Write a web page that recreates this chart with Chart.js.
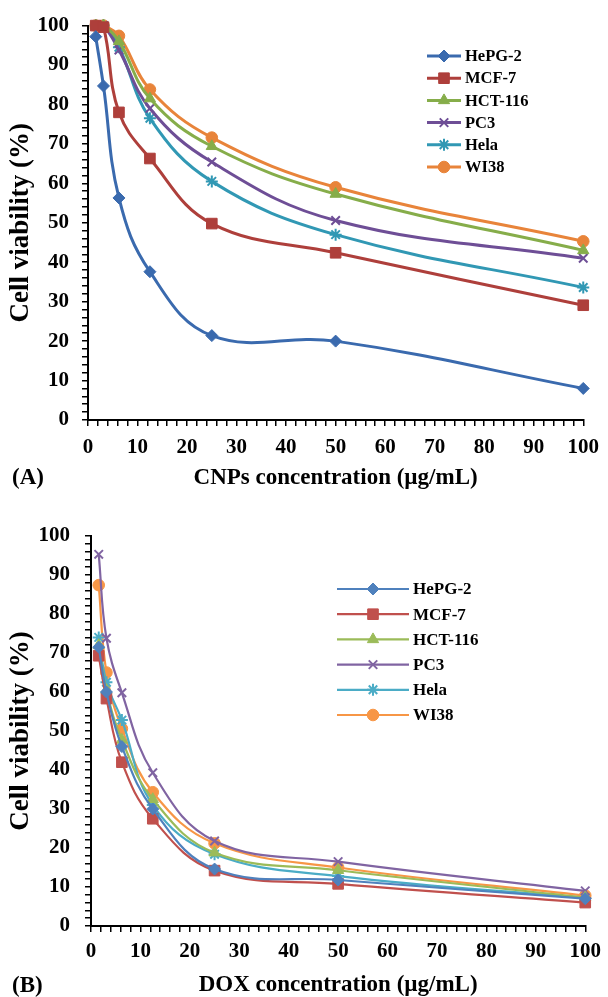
<!DOCTYPE html>
<html>
<head>
<meta charset="utf-8">
<script src="https://cdn.jsdelivr.net/npm/chart.js@4.4.1/dist/chart.umd.min.js"></script>
<style>
  body { margin: 0; background: #fff; width: 608px; height: 997px; position: relative; overflow: hidden; }
  canvas { position: absolute; left: 0; }
  #chartA { top: 0; }
  #chartB { top: 500px; }
</style>
</head>
<body>
<canvas id="chartA" width="608" height="500"></canvas>
<canvas id="chartB" width="608" height="497"></canvas>
<script>
// concentrations tested (µg/mL)
const concentrations = [1.5625, 3.125, 6.25, 12.5, 25, 50, 100];
const cellLines = ['HePG-2', 'MCF-7', 'HCT-116', 'PC3', 'Hela', 'WI38'];

// (A) CNPs
const cnpHepG2 = [97.2, 84.7, 56.3, 37.6, 21.4, 20.0, 8.0];
const cnpMCF7  = [100, 99.6, 78.0, 66.3, 49.8, 42.4, 29.1];
const cnpHCT   = [100, 100, 96.0, 81.5, 69.4, 57.3, 43.0];
const cnpPC3   = [100, 100, 93.8, 79.0, 65.4, 50.6, 41.0];
const cnpHela  = [100, 100, 94.5, 76.5, 60.5, 47.0, 33.6];
const cnpWI38  = [100, 100, 97.4, 83.8, 71.6, 59.0, 45.3];

// (B) DOX
const doxHepG2 = [71.5, 60.0, 46.0, 30.0, 14.6, 11.8, 7.0];
const doxMCF7  = [69.3, 58.3, 42.0, 27.5, 14.2, 10.8, 6.0];
const doxHCT   = [72.0, 60.5, 47.7, 32.5, 18.8, 14.3, 7.3];
const doxPC3   = [95.3, 73.8, 59.8, 39.3, 21.8, 16.5, 9.0];
const doxHela  = [74.0, 62.5, 52.8, 31.0, 18.4, 12.8, 7.2];
const doxWI38  = [87.4, 65.0, 50.6, 34.3, 21.2, 15.0, 7.8];

const yTicks = [0, 10, 20, 30, 40, 50, 60, 70, 80, 90, 100];

const colorsA = ['#3A6AAE', '#AE3F3B', '#86AD4A', '#6E4E96', '#3198B4', '#E8843A'];
const colorsB = ['#4F81BD', '#C0504D', '#9BBB59', '#8064A2', '#4BACC6', '#F79646'];
const markers = ['rectRot', 'rect', 'triangle', 'crossRot', 'star', 'circle'];
const markerSize = [6, 7.5, 6.5, 6, 6, 5.8];

const serif = '"Liberation Serif", "Times New Roman", serif';

function makeDatasets(series, colors, lineWidth) {
  return series.map((vals, i) => ({
    label: cellLines[i],
    data: concentrations.map((c, j) => ({ x: c, y: vals[j] })),
    borderColor: colors[i],
    backgroundColor: colors[i],
    borderWidth: lineWidth,
    pointStyle: markers[i],
    pointRadius: markerSize[i],
    pointBorderWidth: (markers[i] === 'crossRot' || markers[i] === 'star') ? 2 : 1,
    tension: 0.4,
    clip: false
  }));
}

// draws the legend box and the panel letter
const sideLegend = {
  id: 'sideLegend',
  afterDraw(chart, args, opts) {
    const ctx = chart.ctx;
    ctx.save();
    chart.data.datasets.forEach((ds, i) => {
      const y = opts.y + i * opts.gap;
      ctx.strokeStyle = ds.borderColor;
      ctx.fillStyle = ds.backgroundColor;
      ctx.lineWidth = opts.lineWidth;
      ctx.beginPath();
      ctx.moveTo(opts.x, y);
      ctx.lineTo(opts.x + opts.lineLen, y);
      ctx.stroke();
      ctx.lineWidth = ds.pointBorderWidth;
      Chart.helpers.drawPoint(ctx, {
        pointStyle: ds.pointStyle, rotation: 0, radius: ds.pointRadius, borderWidth: ds.pointBorderWidth
      }, opts.x + opts.markerAt, y);
      ctx.fillStyle = '#000';
      ctx.font = 'bold ' + opts.fontSize + 'px ' + serif;
      ctx.textAlign = 'left';
      ctx.textBaseline = 'middle';
      ctx.fillText(ds.label, opts.textX, y + 1);
    });
    ctx.font = 'bold 23px ' + serif;
    ctx.textAlign = 'left';
    ctx.textBaseline = 'middle';
    ctx.fillStyle = '#000';
    ctx.fillText(opts.panel, 12, opts.panelY);
    ctx.restore();
  }
};

function axisOpts(titleText, titleSize, tickPad, titlePad, fixedSize, isY) {
  return {
    type: 'linear',
    min: 0,
    max: 100,
    border: { color: '#000', width: 2 },
    grid: { drawOnChartArea: false, drawTicks: true, tickLength: 6, color: '#000', lineWidth: 1.5 },
    ticks: {
      stepSize: 2,
      autoSkip: false,
      maxRotation: 0,
      padding: tickPad,
      color: '#000',
      font: { family: serif, size: 21, weight: 'bold' },
      callback: v => yTicks.includes(Math.round(v)) ? Math.round(v) : ''
    },
    title: {
      display: true,
      text: titleText,
      color: '#000',
      font: { family: serif, size: titleSize, weight: 'bold', lineHeight: 1 },
      padding: titlePad
    },
    afterFit: s => { if (isY) s.width = fixedSize; else s.height = fixedSize; }
  };
}

function makeChart(id, series, colors, lineWidth, cfg) {
  return new Chart(document.getElementById(id), {
    type: 'line',
    data: { datasets: makeDatasets(series, colors, lineWidth) },
    options: {
      responsive: false,
      animation: false,
      layout: { padding: cfg.padding },
      plugins: {
        legend: { display: false },
        tooltip: { enabled: false },
        sideLegend: cfg.legend
      },
      scales: {
        x: axisOpts(cfg.xTitle, 23, cfg.xTickPad, { top: 0, bottom: cfg.xTitlePad }, cfg.xHeight, false),
        y: axisOpts('Cell viability (%)', 27, cfg.yTickPad, { top: 8, bottom: 0 }, cfg.yWidth, true)
      }
    },
    plugins: [sideLegend]
  });
}

makeChart('chartA', [cnpHepG2, cnpMCF7, cnpHCT, cnpPC3, cnpHela, cnpWI38], colorsA, 3, {
  padding: { left: 0, top: 23, right: 19, bottom: 0 },
  xTitle: 'CNPs concentration (µg/mL)',
  xTickPad: 9, xTitlePad: 10, xHeight: 80,
  yTickPad: 13, yWidth: 88,
  legend: { x: 427, y: 56, gap: 22.2, lineLen: 34, markerAt: 17, textX: 465, fontSize: 16.5, lineWidth: 3, panel: '(A)', panelY: 478 }
});

makeChart('chartB', [doxHepG2, doxMCF7, doxHCT, doxPC3, doxHela, doxWI38], colorsB, 2.2, {
  padding: { left: 0, top: 36, right: 17, bottom: 0 },
  xTitle: 'DOX concentration (µg/mL)',
  xTickPad: 7, xTitlePad: 0, xHeight: 71,
  yTickPad: 15, yWidth: 91,
  legend: { x: 337, y: 89, gap: 25.2, lineLen: 72, markerAt: 36, textX: 413, fontSize: 17, lineWidth: 2.2, panel: '(B)', panelY: 486 }
});
</script>
</body>
</html>
